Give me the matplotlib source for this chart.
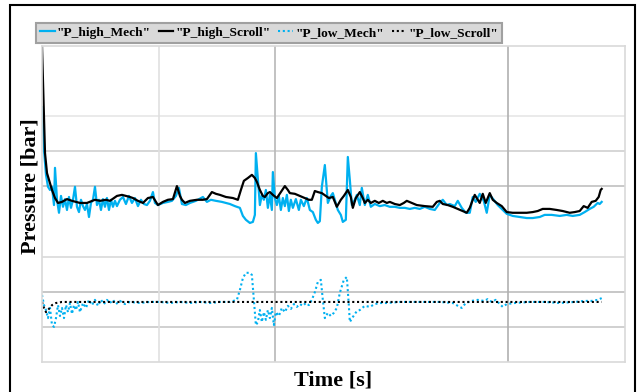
import matplotlib
matplotlib.use("Agg")
import matplotlib.pyplot as plt
from matplotlib.patches import Rectangle

# time [s] and pressure [bar]
t_high_scroll = [0, 18, 30, 60, 78, 96, 120, 150, 180, 228, 270, 318, 348, 384, 408, 450, 480, 528, 546, 576,
                 606, 636, 666, 696, 726, 756, 786, 810, 828, 840, 858, 888, 930, 966, 990, 1020, 1044, 1068, 1104,
                 1146, 1176, 1194, 1212, 1236, 1260, 1278, 1290, 1308, 1326, 1338, 1356, 1368, 1386, 1410, 1434, 1458,
                 1476, 1488, 1518, 1548, 1578, 1602, 1620, 1638, 1656, 1680, 1704, 1722, 1746, 1770, 1794, 1812, 1836,
                 1854, 1866, 1884, 1908, 1926, 1938, 1956, 1974, 1998, 2022, 2046, 2070, 2088, 2118, 2148, 2172, 2190,
                 2220, 2250, 2298, 2346, 2370, 2388, 2406, 2436, 2466, 2496, 2526, 2550, 2568, 2586, 2598, 2616, 2628,
                 2646, 2664, 2688, 2706, 2730, 2760, 2790, 2826, 2868, 2910, 2946, 2976, 3006, 3048, 3090, 3126, 3168,
                 3198, 3228, 3252, 3276, 3300, 3324, 3342, 3354, 3360]
p_high_scroll = [9.0, 5.95, 5.38, 4.90, 4.67, 4.53, 4.56, 4.64, 4.59, 4.53, 4.53, 4.62, 4.59, 4.62, 4.59, 4.73, 4.76,
                 4.70, 4.67, 4.59, 4.53, 4.67, 4.70, 4.47, 4.56, 4.62, 4.64, 5.01, 4.73, 4.62, 4.53, 4.59, 4.62, 4.62,
                 4.64, 4.84, 4.79, 4.76, 4.70, 4.67, 4.62, 4.90, 5.16, 5.24, 5.33, 5.24, 5.13, 4.90, 4.73, 4.70, 4.81,
                 4.84, 4.76, 4.67, 4.84, 5.01, 4.90, 4.81, 4.79, 4.73, 4.67, 4.62, 4.62, 4.87, 4.84, 4.81, 4.73, 4.67,
                 4.70, 4.42, 4.62, 4.73, 4.90, 4.70, 4.39, 4.67, 4.84, 4.67, 4.53, 4.62, 4.53, 4.59, 4.53, 4.59, 4.53,
                 4.56, 4.50, 4.47, 4.53, 4.59, 4.53, 4.47, 4.44, 4.42, 4.56, 4.59, 4.50, 4.47, 4.42, 4.36, 4.30, 4.25,
                 4.39, 4.62, 4.76, 4.62, 4.53, 4.79, 4.53, 4.81, 4.62, 4.53, 4.44, 4.27, 4.25, 4.25, 4.25, 4.27, 4.30,
                 4.36, 4.36, 4.33, 4.30, 4.25, 4.27, 4.30, 4.44, 4.39, 4.56, 4.59, 4.70, 4.90, 4.93]

t_high_mech = [0, 12, 24, 36, 48, 60, 72, 78, 90, 102, 114, 126, 138, 150, 162, 174, 186, 198, 210, 222, 234, 246,
               258, 270, 282, 294, 306, 318, 330, 342, 354, 366, 378, 390, 402, 414, 426, 438, 450, 468, 486, 504,
               522, 540, 558, 576, 594, 612, 630, 648, 666, 678, 696, 726, 756, 780, 804, 822, 840, 864, 888, 924,
               966, 990, 1014, 1044, 1080, 1104, 1128, 1158, 1188, 1206, 1224, 1248, 1266, 1278, 1284, 1296, 1308,
               1320, 1332, 1344, 1356, 1368, 1380, 1386, 1398, 1410, 1422, 1434, 1446, 1458, 1470, 1482, 1494, 1506,
               1524, 1542, 1554, 1572, 1590, 1608, 1626, 1644, 1656, 1668, 1680, 1698, 1710, 1716, 1734, 1746, 1758,
               1776, 1794, 1806, 1824, 1836, 1848, 1860, 1878, 1890, 1908, 1920, 1938, 1956, 1974, 1998, 2028, 2058,
               2088, 2118, 2148, 2178, 2208, 2238, 2268, 2298, 2328, 2358, 2388, 2406, 2430, 2448, 2478, 2496, 2520,
               2544, 2568, 2586, 2604, 2628, 2652, 2670, 2688, 2712, 2736, 2760, 2790, 2826, 2868, 2910, 2946, 2988,
               3018, 3060, 3108, 3150, 3186, 3228, 3258, 3288, 3312, 3336, 3348, 3360]
p_high_mech = [7.26, 6.04, 5.33, 4.99, 4.90, 4.99, 4.47, 5.53, 4.62, 4.25, 4.73, 4.42, 4.64, 4.33, 4.70, 4.39, 4.62,
               4.99, 4.42, 4.27, 4.62, 4.44, 4.33, 4.50, 4.13, 4.53, 4.62, 4.99, 4.47, 4.62, 4.33, 4.64, 4.42, 4.67,
               4.33, 4.62, 4.42, 4.59, 4.44, 4.62, 4.70, 4.50, 4.73, 4.53, 4.67, 4.44, 4.62, 4.50, 4.47, 4.59, 4.84,
               4.53, 4.47, 4.53, 4.56, 4.59, 4.73, 4.96, 4.50, 4.47, 4.53, 4.59, 4.70, 4.56, 4.62, 4.59, 4.56, 4.53,
               4.50, 4.44, 4.39, 4.16, 4.05, 3.96, 3.99, 4.19, 5.95, 5.19, 4.47, 4.76, 4.62, 4.90, 4.39, 4.76, 4.33,
               5.41, 4.67, 4.47, 4.73, 4.33, 4.67, 4.44, 4.76, 4.30, 4.62, 4.39, 4.64, 4.33, 4.62, 4.44, 4.67, 4.33,
               4.27, 4.05, 3.96, 4.01, 4.99, 5.61, 4.90, 4.53, 4.73, 4.81, 4.62, 4.33, 4.19, 3.99, 4.05, 5.84, 5.19,
               4.47, 4.62, 4.76, 4.47, 4.96, 4.47, 4.76, 4.42, 4.50, 4.44, 4.47, 4.42, 4.42, 4.39, 4.39, 4.36, 4.39,
               4.36, 4.42, 4.36, 4.33, 4.53, 4.62, 4.47, 4.50, 4.44, 4.59, 4.39, 4.25, 4.25, 4.70, 4.56, 4.79, 4.59,
               4.25, 4.76, 4.62, 4.47, 4.36, 4.22, 4.16, 4.13, 4.10, 4.10, 4.13, 4.19, 4.19, 4.16, 4.19, 4.16, 4.19,
               4.27, 4.36, 4.42, 4.53, 4.50, 4.56]

t_low_mech = [0, 12, 24, 36, 48, 60, 72, 84, 96, 108, 120, 132, 144, 156, 168, 180, 192, 204, 216, 228, 246, 264,
              282, 300, 318, 336, 354, 372, 390, 408, 426, 444, 468, 498, 528, 588, 648, 708, 768, 828, 888, 948,
              1008, 1068, 1128, 1170, 1188, 1206, 1224, 1248, 1260, 1272, 1284, 1296, 1308, 1320, 1332, 1344, 1356,
              1368, 1380, 1392, 1404, 1422, 1440, 1458, 1476, 1494, 1512, 1530, 1548, 1566, 1584, 1602, 1620, 1638,
              1656, 1674, 1686, 1698, 1716, 1734, 1752, 1770, 1788, 1812, 1830, 1842, 1848, 1866, 1890, 1908, 1938,
              1968, 1998, 2028, 2070, 2148, 2268, 2388, 2466, 2496, 2520, 2544, 2580, 2616, 2652, 2676, 2700, 2724,
              2748, 2766, 2790, 2838, 2928, 3018, 3108, 3198, 3258, 3300, 3336, 3360]
p_low_mech = [1.91, 1.62, 1.48, 1.25, 1.54, 1.05, 1.00, 1.25, 1.62, 1.31, 1.54, 1.25, 1.62, 1.42, 1.68, 1.37, 1.62,
              1.48, 1.71, 1.42, 1.68, 1.54, 1.77, 1.62, 1.77, 1.60, 1.77, 1.65, 1.77, 1.68, 1.77, 1.65, 1.74, 1.65,
              1.71, 1.68, 1.71, 1.71, 1.68, 1.71, 1.68, 1.71, 1.68, 1.71, 1.71, 1.77, 2.05, 2.39, 2.54, 2.54, 2.48,
              1.77, 1.05, 1.14, 1.48, 1.14, 1.42, 1.20, 1.48, 1.25, 1.54, 1.05, 1.42, 1.31, 1.54, 1.42, 1.60, 1.51,
              1.65, 1.57, 1.65, 1.60, 1.68, 1.62, 1.77, 1.99, 2.28, 2.34, 1.77, 1.25, 1.40, 1.31, 1.40, 1.54, 1.97,
              2.34, 2.42, 1.62, 1.14, 1.28, 1.45, 1.48, 1.60, 1.57, 1.65, 1.68, 1.68, 1.71, 1.71, 1.71, 1.68, 1.60,
              1.54, 1.68, 1.74, 1.77, 1.74, 1.79, 1.71, 1.77, 1.65, 1.57, 1.65, 1.68, 1.71, 1.71, 1.68, 1.71, 1.74,
              1.74, 1.77, 1.82]

t_low_scroll = [0, 12, 24, 36, 60, 84, 120, 648, 1548, 2448, 3360]
p_low_scroll = [1.71, 1.54, 1.42, 1.48, 1.62, 1.68, 1.71, 1.71, 1.71, 1.71, 1.71]

BLUE = "#00b0f0"

fig = plt.figure(figsize=(6.39, 3.92), dpi=100)
ax = fig.add_axes([42 / 639, 30 / 392, 583 / 639, 316 / 392])

# gridlines (no tick labels on this chart)
for y, c in [(1, "#c8c8c8"), (2, "#bdbdbd"), (3, "#d9d9d9"), (5, "#c0c0c0"), (6, "#d0d0d0"), (7, "#e6e6e6")]:
    ax.axhline(y, color=c, lw=1.2, zorder=0)
for x, c in [(700, "#e0e0e0"), (1400, "#b8b8b8"), (2800, "#b0b0b0")]:
    ax.axvline(x, color=c, lw=1.2, zorder=0)

ax.plot(t_high_mech, p_high_mech, color=BLUE, lw=1.6, label='"P_high_Mech"')
ax.plot(t_high_scroll, p_high_scroll, color="black", lw=1.6, label='"P_high_Scroll"')
ax.plot(t_low_mech, p_low_mech, color=BLUE, lw=1.5, ls=(0, (1, 1.3)), label='"P_low_Mech"')
ax.plot(t_low_scroll, p_low_scroll, color="black", lw=1.5, ls=(0, (1, 1.3)), label='"P_low_Scroll"')

ax.set_xlim(0, 3500)
ax.set_ylim(0, 9)
ax.set_xticks([])
ax.set_yticks([])
for s in ax.spines.values():
    s.set_color("#d9d9d9")
    s.set_linewidth(1.2)

serif = ["Liberation Serif", "DejaVu Serif"]
leg = fig.legend(loc="lower left", bbox_to_anchor=(36 / 639, 1 - 43 / 392), ncol=4, frameon=True, fancybox=False,
                 prop={"family": serif, "weight": "bold", "size": 9.6}, handlelength=1.1, handletextpad=0.15,
                 columnspacing=0.6, borderpad=0.3, borderaxespad=0)
leg.get_frame().set_facecolor("#d9d9d9")
leg.get_frame().set_edgecolor("#a0a0a0")
leg.get_frame().set_linewidth(1.5)
leg.get_frame().set_alpha(1)

fig.text(30 / 639, 1 - 186 / 392, "Pressure [bar]", rotation=90, ha="center", va="center",
         family=serif, weight="bold", fontsize=16)
fig.text(333 / 639, 1 - 380 / 392, "Time [s]", ha="center", va="center",
         family=serif, weight="bold", fontsize=16)

# outer frame of the picture
fig.patches.append(Rectangle((10 / 639, -0.1), 625 / 639, 1.1 - 5 / 392, transform=fig.transFigure,
                             fill=False, edgecolor="black", lw=1.5))

fig.savefig("out.png", dpi=100)
